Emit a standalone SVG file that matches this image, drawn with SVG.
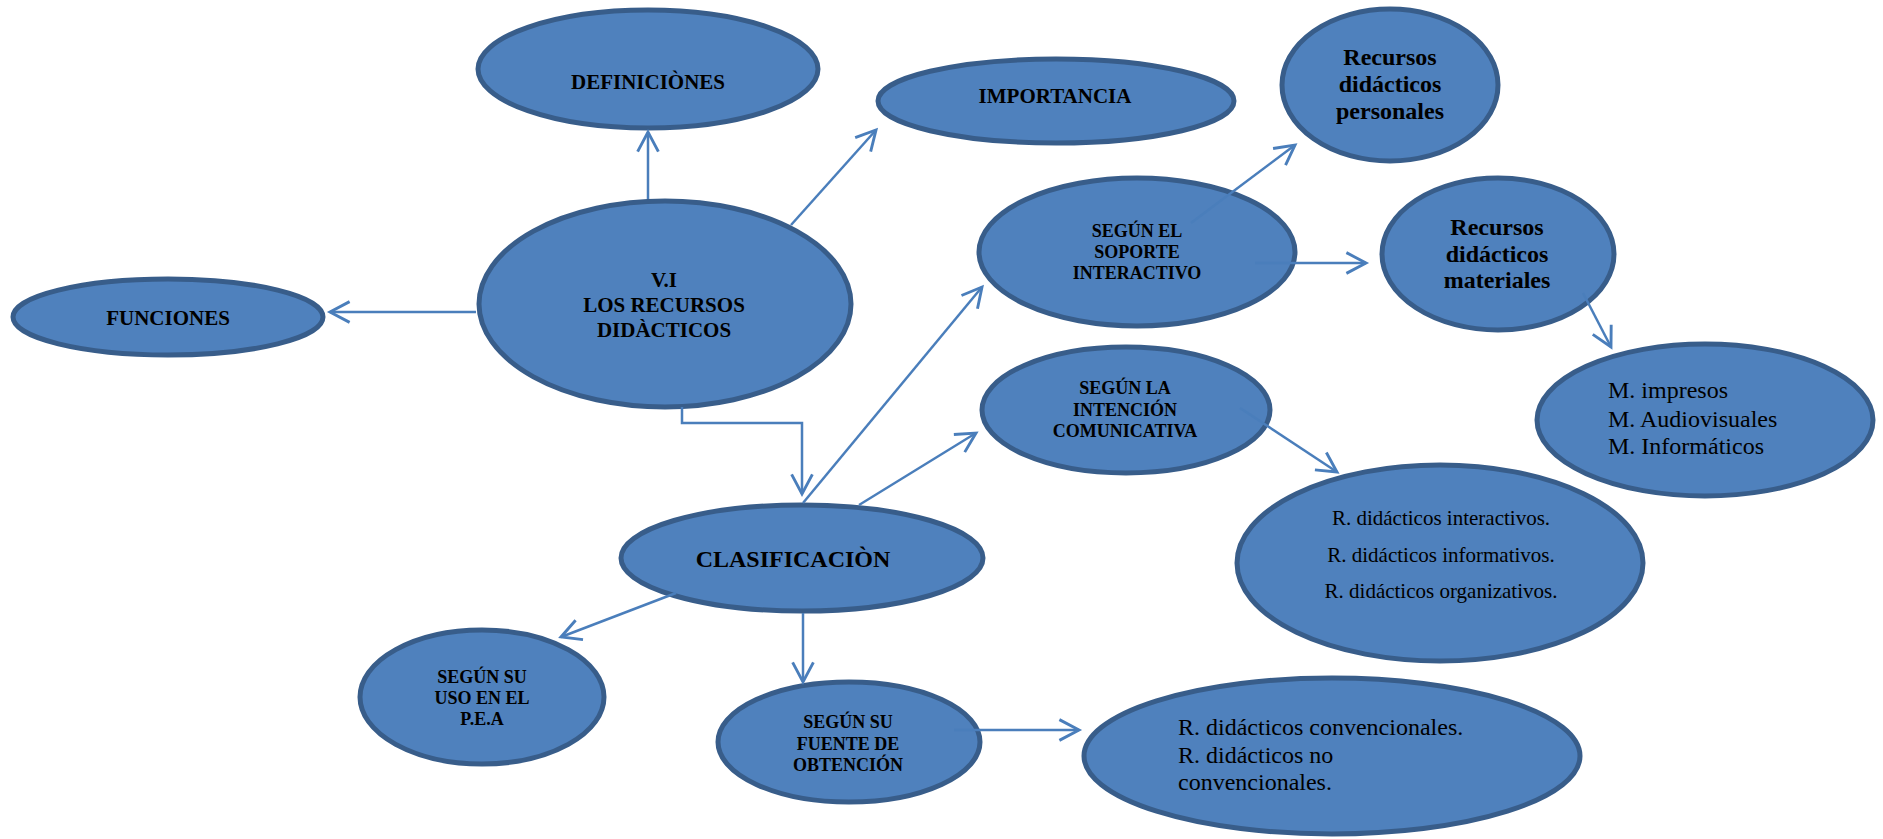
<svg xmlns="http://www.w3.org/2000/svg" width="1883" height="839" viewBox="0 0 1883 839">
<style>
.n{fill:#4F81BD;stroke:#385D8A;stroke-width:5}
.t{font-family:"Liberation Serif","Times New Roman",serif;fill:#000;text-anchor:middle}
.b{font-weight:bold}
.l{text-anchor:start}
.c{fill:none;stroke:#4A7EBB;stroke-width:2.5;marker-end:url(#arr)}
</style>
<defs>
<marker id="arr" markerUnits="userSpaceOnUse" markerWidth="30" markerHeight="30" viewBox="-22 -13 26 26" refX="0" refY="0" orient="auto" overflow="visible">
<path d="M-17,-9 L0,0 L-17,9" fill="none" stroke="#4A7EBB" stroke-width="2.5"/>
</marker>
</defs>
<rect width="1883" height="839" fill="#fff"/>
<g id="definiciones"><ellipse class="n" cx="648" cy="69" rx="170" ry="59"/><text class="t b" x="648" y="89" font-size="21">DEFINICIÒNES</text></g>
<g id="importancia"><ellipse class="n" cx="1056" cy="101" rx="178" ry="42"/><text class="t b" x="1055" y="103" font-size="21">IMPORTANCIA</text></g>
<g id="funciones"><ellipse class="n" cx="168" cy="317" rx="155" ry="38"/><text class="t b" x="168" y="325" font-size="21">FUNCIONES</text></g>
<g id="recursos"><ellipse class="n" cx="665" cy="304" rx="186" ry="103"/><text class="t b" font-size="21"><tspan x="664" y="287">V.I</tspan><tspan x="664" y="312">LOS RECURSOS</tspan><tspan x="664" y="337">DIDÀCTICOS</tspan></text></g>
<g id="personales"><ellipse class="n" cx="1390" cy="85" rx="108" ry="76"/><text class="t b" font-size="24"><tspan x="1390" y="65">Recursos</tspan><tspan x="1390" y="92">didácticos</tspan><tspan x="1390" y="119">personales</tspan></text></g>
<g id="soporte"><ellipse class="n" cx="1137" cy="252" rx="158" ry="74"/><text class="t b" font-size="18"><tspan x="1137" y="237">SEGÚN EL</tspan><tspan x="1137" y="258">SOPORTE</tspan><tspan x="1137" y="279">INTERACTIVO</tspan></text></g>
<g id="materiales"><ellipse class="n" cx="1498" cy="254" rx="116" ry="76"/><text class="t b" font-size="24"><tspan x="1497" y="235">Recursos</tspan><tspan x="1497" y="262">didácticos</tspan><tspan x="1497" y="288">materiales</tspan></text></g>
<g id="intencion"><ellipse class="n" cx="1126" cy="410" rx="144" ry="63"/><text class="t b" font-size="18"><tspan x="1125" y="394">SEGÚN LA</tspan><tspan x="1125" y="416">INTENCIÓN</tspan><tspan x="1125" y="437">COMUNICATIVA</tspan></text></g>
<g id="medios"><ellipse class="n" cx="1705" cy="420" rx="168" ry="76"/><text class="t l" font-size="24"><tspan x="1608" y="398">M. impresos</tspan><tspan x="1608" y="427">M. Audiovisuales</tspan><tspan x="1608" y="454">M. Informáticos</tspan></text></g>
<g id="interactivos"><ellipse class="n" cx="1440" cy="563" rx="203" ry="98"/><text class="t" font-size="21"><tspan x="1441" y="525">R. didácticos interactivos.</tspan><tspan x="1441" y="562">R. didácticos informativos.</tspan><tspan x="1441" y="598">R. didácticos organizativos.</tspan></text></g>
<g id="clasificacion"><ellipse class="n" cx="802" cy="558" rx="181" ry="53"/><text class="t b" x="793" y="567" font-size="24">CLASIFICACIÒN</text></g>
<g id="uso"><ellipse class="n" cx="482" cy="697" rx="122" ry="67"/><text class="t b" font-size="18"><tspan x="482" y="683">SEGÚN SU</tspan><tspan x="482" y="704">USO EN EL</tspan><tspan x="482" y="725">P.E.A</tspan></text></g>
<g id="fuente"><ellipse class="n" cx="849" cy="742" rx="131" ry="60"/><text class="t b" font-size="18"><tspan x="848" y="728">SEGÚN SU</tspan><tspan x="848" y="750">FUENTE DE</tspan><tspan x="848" y="771">OBTENCIÓN</tspan></text></g>
<g id="convencionales"><ellipse class="n" cx="1332" cy="756" rx="248" ry="78"/><text class="t l" font-size="24"><tspan x="1178" y="735">R. didácticos convencionales.</tspan><tspan x="1178" y="763">R. didácticos no</tspan><tspan x="1178" y="790">convencionales.</tspan></text></g>
<g id="connectors">
<path class="c" d="M648,199 L648,132"/>
<path class="c" d="M476,312 L330,312"/>
<path class="c" d="M791,225 L876,130"/>
<path class="c" d="M682,407 L682,423 L802,423 L802,494"/>
<path class="c" d="M803,503 L982,287"/>
<path class="c" d="M859,505 L976,433"/>
<path class="c" d="M676,593 L561,637"/>
<path class="c" d="M803,613 L803,682"/>
<path class="c" d="M1191,223 L1295,145"/>
<path class="c" d="M1255,263 L1366,263"/>
<path class="c" d="M1583,293 L1611,347"/>
<path class="c" d="M1240,408 L1337,472"/>
<path class="c" d="M954,730 L1079,730"/>
</g>
</svg>
